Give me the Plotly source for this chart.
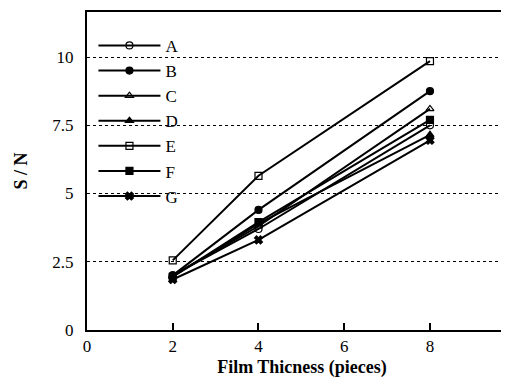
import plotly.graph_objects as go

x_vals = [2, 4, 8]
series_names = ["A", "B", "C", "D", "E", "F", "G"]
A = [2.0, 3.7, 7.5]
B = [2.0, 4.4, 8.75]
C = [2.0, 3.8, 8.1]
D = [1.95, 3.9, 7.15]
E = [2.55, 5.65, 9.85]
F = [1.95, 3.95, 7.7]
G = [1.85, 3.3, 6.95]
series_values = [A, B, C, D, E, F, G]
symbols = ["circle-open", "circle", "triangle-up-open", "triangle-up",
           "square-open", "square", "x"]
x_ticks = [0, 2, 4, 6, 8]
y_ticks = [0, 2.5, 5, 7.5, 10]
y_tick_labels = ["0", "2.5", "5", "7.5", "10"]

serif = "Liberation Serif, Times New Roman, serif"

fig = go.Figure()
for name, vals, sym in zip(series_names, series_values, symbols):
    fig.add_trace(go.Scatter(
        x=x_vals, y=vals, name=name, mode="lines+markers",
        line=dict(color="black", width=2),
        marker=dict(symbol=sym, size=7, color="black",
                    line=dict(color="black", width=1.2)),
    ))

fig.update_layout(
    width=509, height=383,
    margin=dict(l=79, r=0, t=4, b=61, autoexpand=False),
    paper_bgcolor="white", plot_bgcolor="white",
    font=dict(family=serif, color="black", size=16),
    legend=dict(x=0.015, y=0.95, xanchor="left", yanchor="top",
                bgcolor="rgba(0,0,0,0)", font=dict(size=17, family=serif),
                itemwidth=62, tracegroupgap=0),
    showlegend=True,
)
fig.update_xaxes(
    range=[0, 10.03], tickvals=x_ticks, ticks="inside", ticklen=7, tickwidth=2,
    tickcolor="black", showline=True, linecolor="black", linewidth=2,
    mirror=True, showgrid=False, zeroline=False, automargin=False,
    title=dict(text="<b>Film Thicness (pieces)</b>", font=dict(size=18, family=serif), standoff=5),
    tickfont=dict(size=17, family=serif),
)
fig.update_yaxes(
    range=[0, 11.65], tickvals=y_ticks, ticktext=y_tick_labels, ticks="",
    ticklabelstandoff=8, automargin=False,
    showline=True, linecolor="black", linewidth=2, mirror=False,
    showgrid=True, gridcolor="black", gridwidth=1, griddash="dot",
    zeroline=False,
    title=dict(text="<b>S / N</b>", font=dict(size=18, family=serif), standoff=20),
    tickfont=dict(size=17, family=serif),
)
fig.write_html("out.html")
